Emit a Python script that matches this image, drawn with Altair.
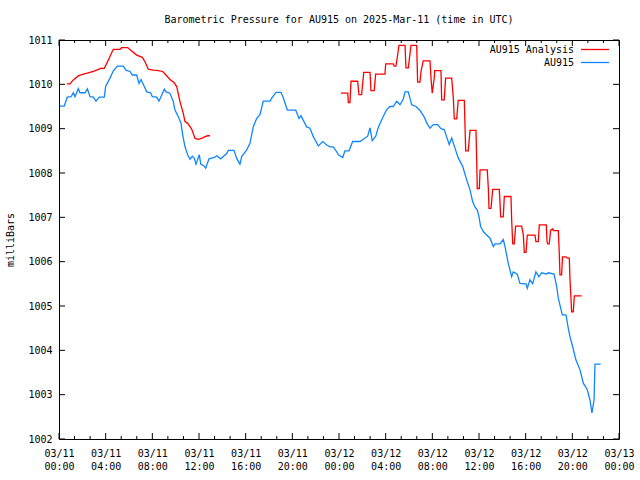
import json
import altair as alt
import pandas as pd

FONT = "DejaVu Sans Mono"
W, H = 560, 399

# ---- data (hours since 2025-03-11 00:00 UTC, pressure in mb) ----
blue_hours = [0.09, 0.45, 0.71, 1.03, 1.23, 1.37, 1.65, 1.80, 2.23, 2.43, 2.66, 2.94, 3.17, 3.45, 3.88,
              4.00, 4.37, 4.65, 5.00, 5.51, 5.74, 6.09, 6.28, 6.66, 6.86, 7.03, 7.31, 7.52, 7.86, 8.00,
              8.37, 8.57, 9.03, 9.17, 9.51, 9.80, 9.94, 10.23, 10.46, 10.60, 10.80, 11.03, 11.23, 11.43,
              11.60, 11.74, 12.03, 12.15, 12.43, 12.57, 12.86, 13.31, 13.52, 13.86, 14.37, 14.51, 15.00,
              15.23, 15.51, 15.66, 16.09, 16.37, 16.65, 16.94, 17.23, 17.51, 18.09, 18.23, 18.60, 19.03,
              19.23, 19.57, 20.29, 20.57, 20.74, 21.23, 21.51, 21.80, 22.23, 22.60, 22.95, 23.23, 23.51,
              23.80, 23.94, 24.32, 24.51, 24.86, 25.17, 25.80, 26.46, 26.66, 26.85, 27.15, 27.37, 27.80,
              28.09, 28.37, 28.65, 28.94, 29.23, 29.51, 29.66, 29.94, 30.23, 30.60, 30.94, 31.31, 31.52,
              31.80, 32.08, 32.46, 32.74, 33.02, 33.17, 33.45, 33.66, 33.94, 34.22, 34.60, 34.95, 35.23,
              35.46, 35.66, 35.85, 36.00, 36.14, 36.37, 36.66, 36.94, 37.23, 37.37, 37.80, 38.08, 38.23,
              38.51, 38.80, 38.94, 39.28, 39.51, 40.03, 40.14, 40.37, 40.60, 40.88, 41.14, 41.37, 41.80,
              41.94, 42.43, 42.66, 42.80, 42.94, 43.14, 43.46, 43.65, 43.80, 44.03, 44.31, 44.66, 44.94,
              45.28, 45.51, 45.68, 45.86, 45.94, 46.43]
blue_mb = [1009.51, 1009.51, 1009.71, 1009.72, 1009.81, 1009.72, 1009.90, 1009.81, 1009.81, 1009.90,
           1009.72, 1009.71, 1009.62, 1009.71, 1009.71, 1009.95, 1010.14, 1010.30, 1010.41, 1010.41,
           1010.32, 1010.29, 1010.21, 1010.21, 1010.02, 1010.11, 1009.95, 1009.83, 1009.81, 1009.72,
           1009.71, 1009.62, 1009.89, 1009.83, 1009.80, 1009.61, 1009.42, 1009.27, 1009.12, 1008.86,
           1008.59, 1008.41, 1008.31, 1008.38, 1008.33, 1008.20, 1008.41, 1008.20, 1008.16, 1008.11,
           1008.32, 1008.35, 1008.39, 1008.32, 1008.44, 1008.51, 1008.51, 1008.33, 1008.20, 1008.37,
           1008.52, 1008.67, 1009.04, 1009.23, 1009.32, 1009.62, 1009.62, 1009.69, 1009.82, 1009.82,
           1009.69, 1009.42, 1009.42, 1009.23, 1009.29, 1009.04, 1009.01, 1008.82, 1008.61, 1008.71,
           1008.63, 1008.59, 1008.59, 1008.48, 1008.41, 1008.35, 1008.50, 1008.50, 1008.71, 1008.71,
           1008.83, 1009.02, 1008.73, 1008.83, 1009.03, 1009.28, 1009.43, 1009.50, 1009.50, 1009.62,
           1009.54, 1009.67, 1009.83, 1009.83, 1009.54, 1009.50, 1009.41, 1009.26, 1009.13, 1009.01,
           1009.09, 1009.09, 1009.00, 1008.98, 1008.86, 1008.64, 1008.79, 1008.56, 1008.34, 1008.15,
           1007.84, 1007.62, 1007.35, 1007.23, 1007.17, 1007.01, 1006.79, 1006.68, 1006.60, 1006.53,
           1006.34, 1006.40, 1006.40, 1006.50, 1006.34, 1005.96, 1005.66, 1005.77, 1005.72, 1005.51,
           1005.50, 1005.40, 1005.59, 1005.50, 1005.77, 1005.66, 1005.75, 1005.72, 1005.75, 1005.72,
           1005.44, 1005.17, 1005.02, 1004.80, 1004.80, 1004.50, 1004.31, 1004.08, 1003.78, 1003.56,
           1003.26, 1003.11, 1002.88, 1002.59, 1002.88, 1003.69, 1003.69]

red1_hours = [0.66, 0.94, 1.23, 1.65, 2.08, 2.51, 2.94, 3.23, 3.57, 3.88, 4.23, 4.65, 5.23, 5.37, 5.89,
              6.23, 6.66, 7.14, 7.37, 7.65, 8.08, 8.51, 8.89, 9.17, 9.51, 9.86, 10.09, 10.37, 10.65,
              10.80, 11.03, 11.37, 11.66, 11.94, 12.23, 12.51, 12.75, 12.94]
red1_mb = [1010.01, 1010.01, 1010.10, 1010.19, 1010.23, 1010.26, 1010.29, 1010.32, 1010.36, 1010.36,
           1010.55, 1010.79, 1010.79, 1010.83, 1010.83, 1010.75, 1010.66, 1010.61, 1010.51, 1010.34,
           1010.32, 1010.31, 1010.29, 1010.21, 1010.11, 1010.04, 1009.95, 1009.61, 1009.35, 1009.16,
           1009.12, 1008.99, 1008.78, 1008.76, 1008.78, 1008.82, 1008.84, 1008.84]

red2_hours = [24.17, 24.75, 24.80, 24.94, 25.03, 25.60, 25.71, 25.94, 26.12, 26.66, 26.74, 27.02, 27.14,
              27.94, 28.00, 28.65, 28.74, 28.88, 29.03, 29.14, 29.66, 29.74, 29.94, 30.17, 30.66, 30.74,
              30.94, 31.03, 31.22, 31.80, 31.88, 31.99, 32.17, 32.20, 32.74, 32.80, 33.02, 33.14, 33.66,
              33.80, 33.88, 34.09, 34.22, 34.74, 34.86, 35.08, 35.23, 35.74, 35.80, 35.85, 36.03, 36.09,
              36.71, 36.80, 36.86, 37.03, 37.17, 37.74, 37.80, 37.86, 38.08, 38.17, 38.74, 38.80, 38.89,
              39.02, 39.14, 39.66, 39.80, 39.88, 40.03, 40.14, 40.80, 40.88, 41.08, 41.17, 41.77, 41.83,
              41.89, 42.02, 42.14, 42.32, 42.37, 42.80, 42.88, 42.94, 43.08, 43.16, 43.46, 43.57, 43.74,
              43.80, 43.89, 43.94, 44.08, 44.17, 44.80]
red2_mb = [1009.80, 1009.80, 1009.59, 1009.59, 1010.07, 1010.07, 1009.77, 1009.77, 1010.27, 1010.27,
           1009.86, 1009.86, 1010.23, 1010.23, 1010.46, 1010.46, 1010.41, 1010.41, 1010.67, 1010.88,
           1010.88, 1010.37, 1010.37, 1010.88, 1010.88, 1010.05, 1010.05, 1010.29, 1010.53, 1010.53,
           1010.16, 1009.80, 1010.16, 1010.31, 1010.31, 1009.65, 1009.65, 1010.14, 1010.14, 1009.69,
           1009.22, 1009.22, 1009.64, 1009.64, 1008.50, 1008.50, 1008.96, 1008.96, 1008.31, 1007.65,
           1007.65, 1008.07, 1008.07, 1007.65, 1007.20, 1007.20, 1007.63, 1007.63, 1007.32, 1007.01,
           1007.01, 1007.47, 1007.47, 1006.94, 1006.40, 1006.40, 1006.80, 1006.80, 1006.60, 1006.21,
           1006.21, 1006.60, 1006.60, 1006.45, 1006.45, 1006.83, 1006.83, 1006.45, 1006.40, 1006.40,
           1006.71, 1006.74, 1006.70, 1006.70, 1006.19, 1005.70, 1005.70, 1006.11, 1006.11, 1006.08,
           1006.08, 1005.59, 1005.14, 1004.87, 1004.87, 1005.23, 1005.23]

series_names = ["AU915 Analysis", "AU915"]
series_colors = ["#ff0000", "#0f86ff"]

x_major_hours = [0, 4, 8, 12, 16, 20, 24, 28, 32, 36, 40, 44, 48]
x_date_labels = ["03/11", "03/11", "03/11", "03/11", "03/11", "03/11",
                 "03/12", "03/12", "03/12", "03/12", "03/12", "03/12", "03/13"]
x_time_labels = ["00:00", "04:00", "08:00", "12:00", "16:00", "20:00",
                 "00:00", "04:00", "08:00", "12:00", "16:00", "20:00", "00:00"]
y_ticks = [1002, 1003, 1004, 1005, 1006, 1007, 1008, 1009, 1010, 1011]
title_text = "Barometric Pressure for AU915 on 2025-Mar-11 (time in UTC)"

# ---- tables ----
rows = []
for seg, name, hs, ms in [("a1", series_names[0], red1_hours, red1_mb),
                          ("a2", series_names[0], red2_hours, red2_mb),
                          ("b", series_names[1], blue_hours, blue_mb)]:
    for i, (h, m) in enumerate(zip(hs, ms)):
        rows.append({"hours": h, "mb": m, "series": name, "seg": seg, "i": i})
df = pd.DataFrame(rows)

minor_hours = [i * 4 / 3 for i in range(37) if i % 3]
major_df = pd.DataFrame({"hours": x_major_hours})
minor_df = pd.DataFrame({"hours": minor_hours})
ytick_df = pd.DataFrame({"mb": y_ticks})
one = pd.DataFrame({"k": [0]})

xscale = alt.Scale(domain=[0, 48], nice=False, zero=False)
yscale = alt.Scale(domain=[1002, 1011], nice=False, zero=False)

label_expr = "[{d}[round(datum.value/4)], {t}[round(datum.value/4)]]".format(
    d=json.dumps(x_date_labels).replace('"', "'"),
    t=json.dumps(x_time_labels).replace('"', "'"))

common = dict(domain=False, ticks=False, grid=False, labelFlush=False, labelOverlap=False,
              labelFont=FONT, labelFontSize=10, labelColor="black",
              titleFont=FONT, titleFontSize=10, titleFontWeight="normal", titleColor="black")

xaxis = alt.Axis(values=x_major_hours, labelExpr=label_expr, labelPadding=9,
                 labelLineHeight=13, labelBaseline="top", title=None, **common)
yaxis = alt.Axis(values=y_ticks, format="d", labelPadding=7, title="milliBars",
                 titlePadding=12, **common)

lines = alt.Chart(df).mark_line(strokeWidth=1.3).encode(
    x=alt.X("hours:Q", scale=xscale, axis=xaxis),
    y=alt.Y("mb:Q", scale=yscale, axis=yaxis),
    color=alt.Color("series:N", scale=alt.Scale(domain=series_names, range=series_colors), legend=None),
    detail="seg:N",
    order="i:Q",
)

def xticks(data, y0, y1):
    return alt.Chart(data).mark_rule(color="black", strokeWidth=1).encode(
        x=alt.X("hours:Q", scale=xscale, axis=xaxis), y=alt.value(y0), y2=alt.value(y1))

def yticks(x0, x1):
    return alt.Chart(ytick_df).mark_rule(color="black", strokeWidth=1).encode(
        y=alt.Y("mb:Q", scale=yscale, axis=yaxis), x=alt.value(x0), x2=alt.value(x1))

tick_layers = [
    xticks(major_df, H, H - 6), xticks(major_df, 0, 6),
    xticks(minor_df, H, H - 3), xticks(minor_df, 0, 3),
    yticks(0, 6), yticks(W, W - 6),
]

legend_layers = []
for k, (name, col) in enumerate(zip(series_names, series_colors)):
    yy = 9.5 + 13 * k
    legend_layers.append(alt.Chart(one).mark_text(align="right", baseline="middle", font=FONT,
                                                  fontSize=10, color="black").encode(
        x=alt.value(515), y=alt.value(yy), text=alt.value(name)))
    legend_layers.append(alt.Chart(one).mark_rule(color=col, strokeWidth=1.3).encode(
        x=alt.value(522), x2=alt.value(550), y=alt.value(yy)))

chart = alt.layer(lines, *tick_layers, *legend_layers).properties(
    width=W, height=H,
    title=alt.TitleParams(title_text, font=FONT, fontSize=10, fontWeight="normal",
                          anchor="middle", offset=10, color="black"),
    autosize=alt.AutoSizeParams(type="none"),
    padding={"left": 59, "top": 40, "right": 21, "bottom": 41},
).configure_view(stroke="black", strokeWidth=1).configure_axis(
    domain=False, ticks=False, grid=False, labelFont=FONT, labelFontSize=10,
    labelColor="black", titleFont=FONT, titleFontSize=10, titleFontWeight="normal",
    titleColor="black",
)

chart.save("out.html", embed_options={"renderer": "svg", "actions": False})
